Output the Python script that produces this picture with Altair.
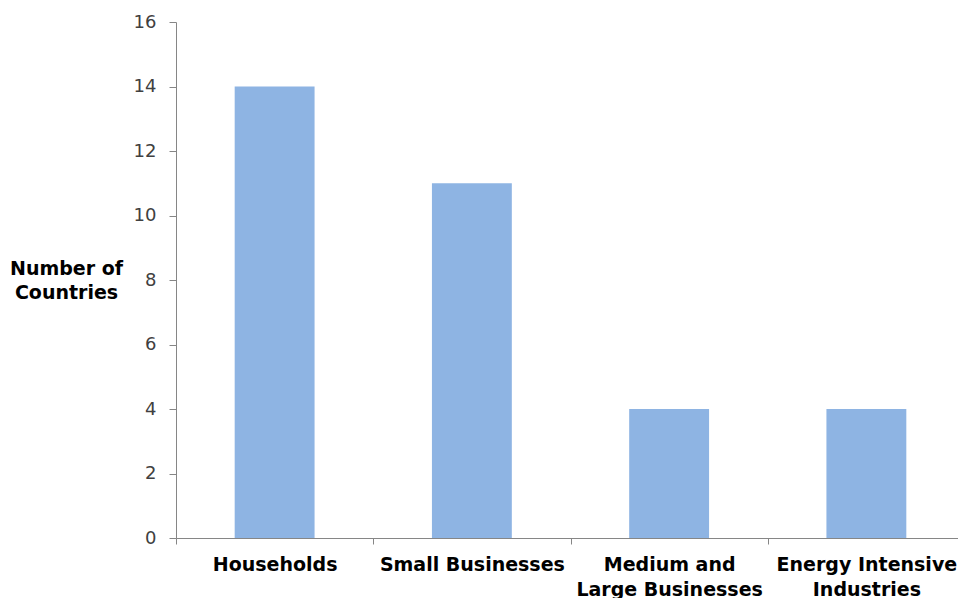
import altair as alt
import pandas as pd

categories = ["Households", "Small Businesses", "Medium and|Large Businesses", "Energy Intensive|Industries"]
counts = [14, 11, 4, 4]
y_ticks = [0, 2, 4, 6, 8, 10, 12, 14, 16]

df = pd.DataFrame({"category": categories, "count": counts})

FONT = "DejaVu Sans"
AXIS_GRAY = "#868686"

chart = (
    alt.Chart(df)
    .mark_bar(color="#8EB4E3", width=alt.RelativeBandSize(0.405))
    .encode(
        x=alt.X(
            "category:N",
            sort=categories,
            scale=alt.Scale(range=[0, 789], paddingInner=0, paddingOuter=0),
            axis=alt.Axis(
                title=None,
                labelAngle=0,
                labelExpr="split(datum.label, '|')",
                labelFont=FONT,
                labelFontSize=19,
                labelFontWeight="bold",
                labelColor="#000000",
                labelLineHeight=25,
                labelBaseline="top",
                labelPadding=11,
                tickBand="extent",
                tickSize=6,
                tickColor=AXIS_GRAY,
                domainColor=AXIS_GRAY,
                labelOverlap=False,
                labelLimit=400,
                grid=False,
            ),
        ),
        y=alt.Y(
            "count:Q",
            scale=alt.Scale(domain=[0, 16], nice=False),
            axis=alt.Axis(
                values=y_ticks,
                grid=False,
                title=["Number of", "Countries"],
                titleAngle=0,
                titleFont=FONT,
                titleFontSize=19,
                titleFontWeight="bold",
                titleColor="#000000",
                titleLineHeight=24.5,
                titleAlign="center",
                titleBaseline="top",
                titleX=-110,
                titleY=237,
                labelFont=FONT,
                labelFontSize=18,
                labelColor="#404040",
                labelPadding=13,
                tickSize=7,
                tickColor=AXIS_GRAY,
                domainColor=AXIS_GRAY,
            ),
        ),
    )
    .properties(
        width=782,
        height=516,
        background="white",
        autosize=alt.AutoSizeParams(type="none"),
        padding={"left": 176, "top": 22, "right": 0, "bottom": 60},
    )
    .configure_view(stroke="transparent", strokeWidth=0)
)

chart.save("out.html", embed_options={"renderer": "svg", "actions": False})
